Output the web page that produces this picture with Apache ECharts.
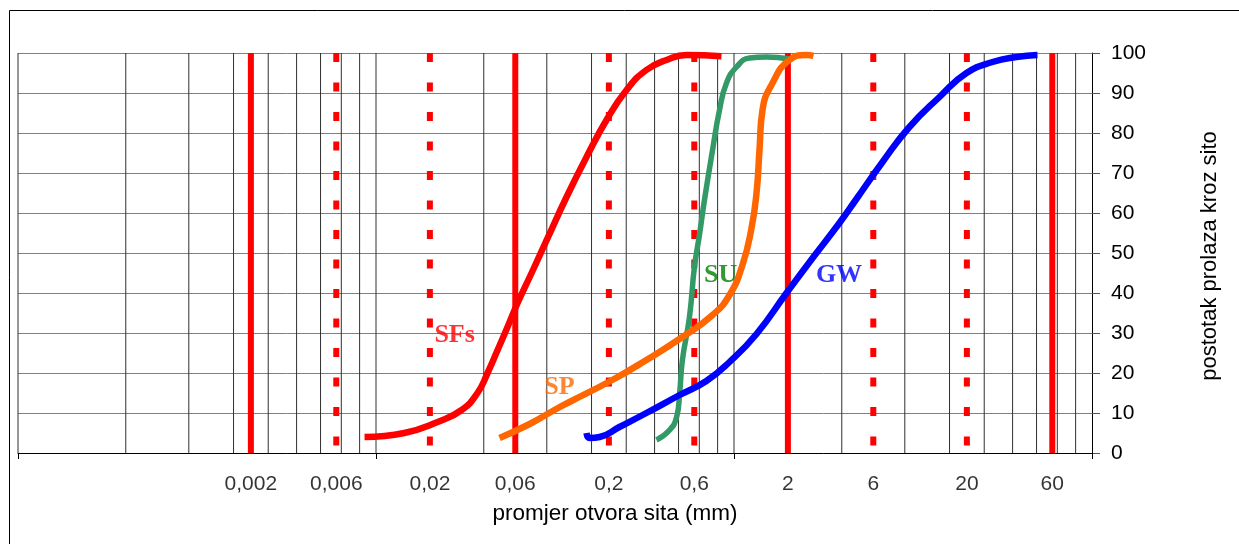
<!DOCTYPE html>
<html>
<head>
<meta charset="utf-8">
<script src="https://cdn.jsdelivr.net/npm/echarts@6/dist/echarts.min.js"></script>
<style>
html,body{margin:0;padding:0;background:#fff;}
#chart{width:1239px;height:544px;}
</style>
</head>
<body>
<div id="chart"></div>
<script>
// ---------- data ----------
const sfsX = [0.00863, 0.0144, 0.0221, 0.0301, 0.0369, 0.042, 0.0478, 0.0543, 0.0618, 0.074, 0.0898, 0.116, 0.150, 0.194, 0.251, 0.324, 0.420, 0.543, 0.851];
const sfsY = [4, 5, 7.75, 10.75, 15, 20, 25.75, 31.5, 37.5, 45, 53.2, 64, 74, 83.25, 90.75, 95.75, 98.25, 99.5, 99.2];

const spX = [0.049, 0.0722, 0.0993, 0.1205, 0.209, 0.324, 0.515, 0.759, 0.944, 1.115, 1.25, 1.336, 1.388, 1.443, 1.641, 2.04, 2.54, 2.78];
const spY = [3.75, 7.25, 10.75, 12.75, 18.25, 23.25, 29, 34.5, 39.5, 47, 56, 65, 75.75, 85.75, 92.5, 98.25, 99.5, 99.3];

const suX = [0.369, 0.437, 0.478, 0.497, 0.515, 0.564, 0.601, 0.641, 0.684, 0.759, 0.830, 0.908, 1.033, 1.221, 1.52, 2.04];
const suY = [3.25, 5.75, 9, 15, 23.25, 34, 46.5, 54.5, 63.25, 75.75, 85.75, 92.5, 96.5, 98.75, 99, 98.5];

const gwX = [0.150, 0.156, 0.1775, 0.229, 0.324, 0.497, 0.701, 0.944, 1.336, 1.965, 2.75, 3.88, 4.83, 6.76, 9.55, 14.06, 19.9, 27.8, 37.8, 49.6];
const gwY = [5, 3.75, 4, 6.5, 10, 14.5, 18, 22.75, 29.75, 40, 48.75, 57.5, 63.5, 72.75, 81.5, 89, 95, 97.75, 99, 99.5];

const curveNames = ['SFs', 'SP', 'SU', 'GW'];
const labelX = [0.0275, 0.106, 0.841, 3.86];
const labelY = [29.5, 16.4, 44.5, 44.5];

const solidRefs = [0.002, 0.06, 2, 60];
const dashedRefs = [0.006, 0.02, 0.2, 0.6, 6, 20];

const xLabelValues = [0.002, 0.006, 0.02, 0.06, 0.2, 0.6, 2, 6, 20, 60];
const xLabelTexts = ['0,002', '0,006', '0,02', '0,06', '0,2', '0,6', '2', '6', '20', '60'];

const gridX = [0.0001, 0.0004, 0.0009, 0.0016, 0.0025, 0.0036, 0.0049, 0.0064, 0.0081, 0.01,
               0.04, 0.09, 0.16, 0.25, 0.36, 0.49, 0.64, 0.81, 1,
               4, 9, 16, 25, 36, 49, 64, 81];

const xTitle = 'promjer otvora sita (mm)';
const yTitle = 'postotak prolaza kroz sito';

// ---------- styles ----------
const curveColors = ['#FF0000', '#FF6600', '#339966', '#0000FF'];
const labelColors = ['#FF0000', '#FF6600', '#008000', '#0000FF'];
const SANS = '"Liberation Sans", Arial, sans-serif';
const SERIF = '"Liberation Serif", "Times New Roman", serif';

const zip = (xs, ys) => xs.map((x, i) => [x, ys[i]]);
const curves = [zip(sfsX, sfsY), zip(spX, spY), zip(suX, suY), zip(gwX, gwY)];

const series = [];

// vertical grid lines
gridX.forEach(v => series.push({
  type: 'line', silent: true, z: 1, showSymbol: false, symbol: 'none',
  data: [[v, 0], [v, 100]],
  lineStyle: {color: '#303030', width: 1, type: 'solid'}
}));

// red reference lines
solidRefs.forEach(v => series.push({
  type: 'line', silent: true, z: 2, showSymbol: false, symbol: 'none',
  data: [[v, 100], [v, 0]],
  lineStyle: {color: '#FF0000', width: 6, type: 'solid', cap: 'butt'}
}));
dashedRefs.forEach(v => series.push({
  type: 'line', silent: true, z: 2, showSymbol: false, symbol: 'none',
  data: [[v, 100], [v, 0]],
  lineStyle: {color: '#FF0000', width: 6, type: [9, 20.5], cap: 'butt'}
}));

// curves
const order = [0, 2, 1, 3];
order.forEach(i => series.push({
  name: curveNames[i], type: 'line', z: 3, smooth: 0.5, showSymbol: false, symbol: 'none',
  data: curves[i],
  lineStyle: {color: curveColors[i], width: i === 2 ? 5.5 : 6.5, cap: 'butt', join: 'round'}
}));

// curve name labels
series.push({
  type: 'scatter', z: 4, silent: true, clip: false, symbolSize: 1,
  itemStyle: {color: 'transparent'},
  data: curveNames.map((n, i) => ({
    value: [labelX[i], labelY[i]], name: n,
    label: {color: labelColors[i]}
  })),
  label: {
    show: true, position: 'inside', formatter: p => p.name,
    fontFamily: SERIF, fontWeight: 'bold', fontSize: 26
  }
});

// x tick labels
series.push({
  type: 'scatter', z: 4, silent: true, clip: false, symbolSize: 1,
  itemStyle: {color: 'transparent'},
  data: xLabelValues.map((v, i) => ({value: [v, 0], name: xLabelTexts[i]})),
  label: {
    show: true, position: 'inside', offset: [0, 31], formatter: p => p.name,
    fontFamily: SANS, fontSize: 21, color: '#000'
  }
});

const chart = echarts.init(document.getElementById('chart'), null, {renderer: 'canvas'});
chart.setOption({
  animation: false,
  backgroundColor: '#fff',
  grid: {left: 18, top: 53, width: 1074, height: 400, containLabel: false},
  xAxis: {
    type: 'log', logBase: 100, min: 0.0001, max: 100,
    axisLine: {show: true, lineStyle: {color: '#000', width: 1}},
    axisTick: {show: true, length: 6, lineStyle: {color: '#000'}},
    axisLabel: {show: false},
    splitLine: {show: false}, minorTick: {show: false}
  },
  yAxis: {
    type: 'value', position: 'right', min: 0, max: 100, interval: 10,
    axisLine: {show: true, lineStyle: {color: '#000', width: 1}},
    axisTick: {show: true, length: 8, inside: false, lineStyle: {color: '#555'}},
    axisLabel: {fontFamily: SANS, fontSize: 21, color: '#000', margin: 19},
    splitLine: {show: true, lineStyle: {color: '#808080', width: 1}}
  },
  graphic: [
    {type: 'rect', silent: true, z: 0,
     shape: {x: 9.5, y: 10.5, width: 1240, height: 540},
     style: {fill: 'none', stroke: '#000', lineWidth: 1}},
    {type: 'text', silent: true, x: 615, y: 514,
     style: {text: xTitle, font: '22.5px ' + SANS, fill: '#000', textAlign: 'center', textVerticalAlign: 'middle'}},
    {type: 'text', silent: true, x: 1210, y: 256, rotation: Math.PI / 2,
     style: {text: yTitle, font: '22px ' + SANS, fill: '#000', textAlign: 'center', textVerticalAlign: 'middle'}}
  ],
  series: series
});
</script>
</body>
</html>
